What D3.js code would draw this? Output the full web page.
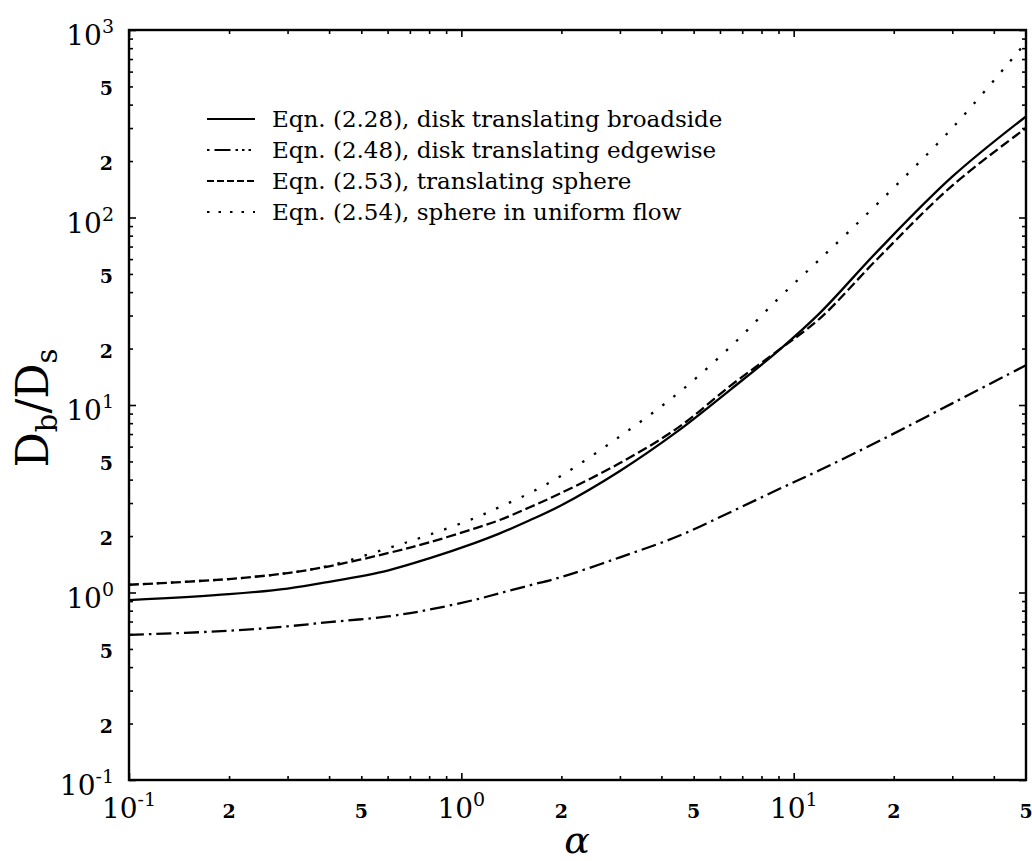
<!DOCTYPE html>
<html>
<head>
<meta charset="utf-8" />
<title>Db/Ds against alpha</title>
<style>
  body { margin: 0; background: #fff; }
  svg text { font-family: "DejaVu Serif", "Liberation Serif", serif; fill: #000; }
</style>
</head>
<body>
<script src="https://d3js.org/d3.v7.min.js"></script>
<script>

// values, alpha on x, Db/Ds on y
var alpha       = [0.1, 0.2, 0.3, 0.4, 0.6, 0.8, 1.1, 1.3, 1.6, 2, 3, 4.5, 6.5, 9, 12, 18, 30, 50];
var broadside   = [0.91, 0.98, 1.05, 1.14, 1.31, 1.52, 1.84, 2.06, 2.42, 2.92, 4.45, 7.3, 12.2, 19.5, 31, 67, 165, 346];
var edgewise    = [0.594, 0.625, 0.66, 0.695, 0.745, 0.81, 0.915, 0.99, 1.09, 1.21, 1.54, 2.0, 2.7, 3.55, 4.5, 6.4, 10.2, 16.3];
var sphere      = [1.1, 1.18, 1.27, 1.38, 1.62, 1.85, 2.2, 2.43, 2.84, 3.4, 4.9, 7.6, 12.8, 19.6, 29, 61, 148, 300];
var uniformFlow = [1.1, 1.18, 1.27, 1.39, 1.72, 2.03, 2.5, 2.85, 3.38, 4.2, 6.8, 11.6, 20.7, 37, 60, 120, 300, 860];

var legendLabels = [
  "Eqn. (2.28), disk translating broadside",
  "Eqn. (2.48), disk translating edgewise",
  "Eqn. (2.53), translating sphere",
  "Eqn. (2.54), sphere in uniform flow"
];

var xDecades = [-1, 0, 1];
var xSmallLabels = [0.2, 0.5, 2, 5, 20, 50];
var yDecades = [-1, 0, 1, 2, 3];
var ySmallLabels = [0.2, 0.5, 2, 5, 20, 50, 200, 500];

var width = 1032;
var height = 861;
var margin = {"left": 129, "right": 6, "top": 30, "bottom": 81};

var svg = d3.select("body").append("svg")
            .attr("width", width)
            .attr("height", height);

var x = d3.scaleLog()
          .domain([0.1, 50])
          .range([margin.left, width - margin.right]);

var y = d3.scaleLog()
          .domain([0.1, 1000])
          .range([height - margin.bottom, margin.top]);

var x0 = x.range()[0], x1 = x.range()[1];
var y0 = y.range()[0], y1 = y.range()[1];

// minor tick values 2..9 of each decade
function minorTicks(scale) {
  var dom = scale.domain(), out = [];
  for (var e = -1; e <= 3; e++) {
    for (var k = 2; k <= 9; k++) {
      var v = k * Math.pow(10, e);
      if (v >= dom[0] * 1.0001 && v <= dom[1] * 0.9999) out.push(v);
    }
  }
  return out;
}
var xMinor = minorTicks(x);
var yMinor = minorTicks(y);
var xMajor = xDecades.map(d => Math.pow(10, d));
var yMajor = yDecades.map(d => Math.pow(10, d));

function tickGroup(axis, tx, ty) {
  var g = svg.append("g")
             .attr("transform", "translate(" + tx + "," + ty + ")")
             .call(axis);
  g.select(".domain").remove();
  g.selectAll("line").attr("stroke", "#000").attr("stroke-width", 1.6);
  return g;
}

// ticks point inwards on all four sides
tickGroup(d3.axisBottom(x).tickValues(xMinor).tickSize(-4).tickFormat(""), 0, y0);
tickGroup(d3.axisTop(x).tickValues(xMinor).tickSize(-4).tickFormat(""), 0, y1);
tickGroup(d3.axisBottom(x).tickValues(xMajor).tickSize(-7).tickFormat(""), 0, y0);
tickGroup(d3.axisTop(x).tickValues(xMajor).tickSize(-7).tickFormat(""), 0, y1);
tickGroup(d3.axisLeft(y).tickValues(yMinor).tickSize(-4).tickFormat(""), x0, 0);
tickGroup(d3.axisRight(y).tickValues(yMinor).tickSize(-4).tickFormat(""), x1, 0);
tickGroup(d3.axisLeft(y).tickValues(yMajor).tickSize(-7).tickFormat(""), x0, 0);
tickGroup(d3.axisRight(y).tickValues(yMajor).tickSize(-7).tickFormat(""), x1, 0);

svg.append("rect")
   .attr("x", x0)
   .attr("y", y1)
   .attr("width", x1 - x0)
   .attr("height", y0 - y1)
   .attr("fill", "none")
   .attr("stroke", "#000")
   .attr("stroke-width", 2.4);

function leadDigit(v) {
  var s = String(v);
  return s[0] == "0" ? s[2] : s[0];
}

// x labels
var xLab = svg.append("g");
xDecades.forEach(function(e) {
  var t = xLab.append("text")
              .attr("x", x(Math.pow(10, e)))
              .attr("y", 818)
              .attr("text-anchor", "middle")
              .style("font-size", "28px")
              .text("10");
  t.append("tspan")
   .attr("dy", -12)
   .style("font-size", "19px")
   .text(e);
});
xSmallLabels.forEach(function(v) {
  xLab.append("text")
      .attr("x", x(v))
      .attr("y", 818)
      .attr("text-anchor", "middle")
      .style("font-size", "19px")
      .style("font-weight", "bold")
      .text(leadDigit(v));
});

// y labels
var yLab = svg.append("g");
yDecades.forEach(function(e) {
  var t = yLab.append("text")
              .attr("x", 114)
              .attr("y", y(Math.pow(10, e)) + 15)
              .attr("text-anchor", "end")
              .style("font-size", "28px")
              .text("10");
  t.append("tspan")
   .attr("dy", -12)
   .style("font-size", "19px")
   .text(e);
});
ySmallLabels.forEach(function(v) {
  yLab.append("text")
      .attr("x", 113)
      .attr("y", y(v) + 9)
      .attr("text-anchor", "end")
      .style("font-size", "19px")
      .style("font-weight", "bold")
      .text(leadDigit(v));
});

// axis titles
svg.append("text")
   .attr("x", 577)
   .attr("y", 853)
   .attr("text-anchor", "middle")
   .style("font-size", "38px")
   .style("font-style", "italic")
   .text("\u03b1");

var yTitle = svg.append("text")
   .attr("transform", "translate(48,408) rotate(-90)")
   .attr("text-anchor", "middle")
   .style("font-size", "44px")
   .text("D");
yTitle.append("tspan").attr("dy", 9).style("font-size", "29px").text("b");
yTitle.append("tspan").attr("dy", -9).text("/D");
yTitle.append("tspan").attr("dy", 9).style("font-size", "29px").text("s");

// curves
var series = [
  {"values": broadside,   "dash": null},
  {"values": edgewise,    "dash": "15,5,2.5,5"},
  {"values": sphere,      "dash": "10,4"},
  {"values": uniformFlow, "dash": "2.5,11.5"}
];

svg.append("clipPath").attr("id", "plotClip")
   .append("rect")
   .attr("x", x0).attr("y", y1)
   .attr("width", x1 - x0).attr("height", y0 - y1);

var line = d3.line()
             .x(d => x(d[0]))
             .y(d => y(d[1]))
             .curve(d3.curveCatmullRom.alpha(0.5));

svg.append("g")
   .attr("clip-path", "url(#plotClip)")
   .selectAll("path")
   .data(series)
   .enter()
   .append("path")
   .attr("d", s => line(alpha.map((a, i) => [a, s.values[i]])))
   .attr("fill", "none")
   .attr("stroke", "#000")
   .attr("stroke-width", 2.3)
   .attr("stroke-dasharray", s => s.dash);

// legend
var legendDash = [null, "2.5,5,16,5,2.5,4,2.5,4", "7,3", "2.5,9"];
var legend = svg.append("g");
legendLabels.forEach(function(lab, i) {
  var by = 127 + i * 31;
  legend.append("line")
        .attr("x1", 207).attr("x2", 255)
        .attr("y1", by - 8).attr("y2", by - 8)
        .attr("stroke", "#000")
        .attr("stroke-width", 2)
        .attr("stroke-dasharray", legendDash[i]);
  legend.append("text")
        .attr("x", 272)
        .attr("y", by)
        .style("font-size", "23px")
        .text(lab);
});

</script>
</body>
</html>
